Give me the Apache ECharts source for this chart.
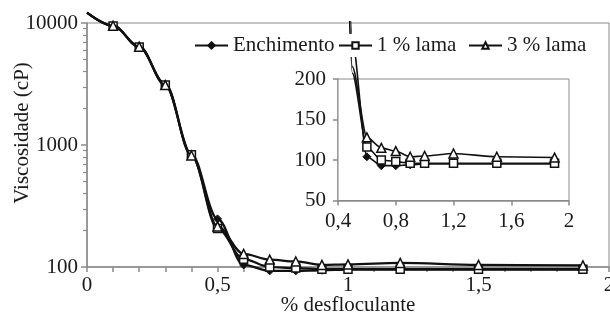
<!DOCTYPE html>
<html>
<head>
<meta charset="utf-8">
<script src="https://cdn.jsdelivr.net/npm/echarts@6/dist/echarts.min.js"></script>
<style>html,body{margin:0;padding:0;background:#fff}#c{width:610px;height:321px}</style>
</head>
<body>
<div id="c"></div>
<script>
// % desfloculante
const xs = [0, 0.1, 0.2, 0.3, 0.4, 0.5, 0.6, 0.7, 0.8, 0.9, 1.0, 1.2, 1.5, 1.9];
// Viscosidade (cP)
const enchimento = [12150, 9500, 6400, 3150, 840, 248, 104, 93, 93, 94, 95, 95, 95, 95];
const lama1 = [12150, 9450, 6350, 3100, 830, 207, 116, 100, 98, 96, 96, 96, 96, 96];
const lama3 = [12150, 9500, 6400, 3100, 820, 215, 128, 115, 111, 104, 105, 108, 104, 103];
const seriesNames = ['Enchimento', '1 % lama', '3 % lama'];
const insetStart = 4; // inset shows from 0.4

const FONT = 'Liberation Serif';
const TXT = '#1a1a1a';
const AX = '#8a8a8a';
const fmtX = v => String(+v.toFixed(2)).replace('.', ',');

const styles = [
  {symbol: 'diamond', symbolSize: 8, itemStyle: {color: '#111', borderColor: '#111', borderWidth: 1}},
  {symbol: 'rect', symbolSize: 8, itemStyle: {color: '#fff', borderColor: '#111', borderWidth: 1.5}},
  {symbol: 'triangle', symbolSize: 9, itemStyle: {color: '#fff', borderColor: '#111', borderWidth: 1.5}}
];
const allVals = [enchimento, lama1, lama3];

const series = [];
allVals.forEach((vals, k) => {
  const st = styles[k];
  series.push({
    name: seriesNames[k], type: 'line', xAxisIndex: 0, yAxisIndex: 0,
    data: xs.map((x, i) => [x, vals[i]]),
    smooth: 0.35, smoothMonotone: 'x', clip: false,
    symbol: st.symbol,
    symbolSize: v => v[1] > 10000 ? 0 : st.symbolSize,
    itemStyle: st.itemStyle,
    lineStyle: {color: '#111', width: 2.2},
    z: 3 + k
  });
});
allVals.forEach((vals, k) => {
  const st = styles[k];
  series.push({
    name: seriesNames[k], type: 'line', xAxisIndex: 1, yAxisIndex: 1,
    data: xs.slice(insetStart).map((x, i) => [x, vals[insetStart + i]]),
    smooth: 0.25, smoothMonotone: 'x', clip: false,
    symbol: st.symbol,
    symbolSize: v => v[1] > 200 ? 0 : st.symbolSize,
    itemStyle: st.itemStyle,
    lineStyle: {color: '#111', width: 1.6},
    z: 10 + k
  });
});

const legendBase = {
  orient: 'horizontal', top: 34, itemWidth: 33, itemHeight: 8,
  backgroundColor: '#fff', padding: [1, 2],
  textStyle: {fontFamily: FONT, fontSize: 21, color: TXT},
  z: 30
};

const chart = echarts.init(document.getElementById('c'), null, {renderer: 'canvas'});
chart.setOption({
  animation: false,
  backgroundColor: '#fff',
  legend: [
    Object.assign({}, legendBase, {data: [seriesNames[0]], left: 192}),
    Object.assign({}, legendBase, {data: [seriesNames[1]], left: 336}),
    Object.assign({}, legendBase, {data: [seriesNames[2]], left: 466})
  ],
  grid: [
    {left: 87, right: 1, top: 23, bottom: 54, show: true, borderColor: AX, borderWidth: 1, backgroundColor: 'transparent', outerBoundsMode: 'none', containLabel: false},
    {left: 338, right: 41, top: 79, bottom: 120.5, show: true, borderColor: AX, borderWidth: 1, backgroundColor: '#fff', z: 5, outerBoundsMode: 'none', containLabel: false}
  ],
  xAxis: [
    {
      type: 'value', gridIndex: 0, min: 0, max: 2, interval: 0.5,
      name: '% desfloculante', nameLocation: 'middle', nameGap: 28, nameMoveOverlap: false,
      nameTextStyle: {fontFamily: FONT, fontSize: 21, color: TXT},
      axisLine: {lineStyle: {color: AX, width: 1.5}},
      axisTick: {show: true, length: 5, lineStyle: {color: AX, width: 1.5}},
      minorTick: {show: true, splitNumber: 5, length: 5, lineStyle: {color: AX, width: 1.5}},
      splitLine: {show: false},
      axisLabel: {fontFamily: FONT, fontSize: 21, color: TXT, margin: 8, formatter: fmtX}
    },
    {
      type: 'value', gridIndex: 1, min: 0.4, max: 2, interval: 0.4,
      axisLine: {lineStyle: {color: AX, width: 1.5}},
      axisTick: {show: true, length: 5, lineStyle: {color: AX, width: 1.5}},
      splitLine: {show: false},
      axisLabel: {fontFamily: FONT, fontSize: 21, color: TXT, margin: 10, formatter: fmtX}
    }
  ],
  yAxis: [
    {
      type: 'log', logBase: 10, gridIndex: 0, min: 100, max: 10000,
      name: 'Viscosidade (cP)', nameLocation: 'middle', nameGap: 54, nameMoveOverlap: false,
      nameTextStyle: {fontFamily: FONT, fontSize: 21, color: TXT, padding: [0, 0, 0, 24]},
      axisLine: {show: true, lineStyle: {color: AX, width: 1.5}},
      axisTick: {show: true, length: 6, lineStyle: {color: AX, width: 1.5}},
      minorTick: {show: true, splitNumber: 9, length: 4, lineStyle: {color: AX, width: 1.2}},
      splitLine: {show: false},
      axisLabel: {fontFamily: FONT, fontSize: 21, color: TXT, margin: 9, formatter: v => String(Math.round(v))}
    },
    {
      type: 'value', gridIndex: 1, min: 50, max: 200, interval: 50,
      axisLine: {show: true, lineStyle: {color: AX, width: 1.5}},
      axisTick: {show: true, length: 5, lineStyle: {color: AX, width: 1.5}},
      splitLine: {show: false},
      axisLabel: {fontFamily: FONT, fontSize: 21, color: TXT, margin: 12}
    }
  ],
  graphic: [
    {type: 'rect', shape: {x: 335, y: 0, width: 30, height: 21}, style: {fill: '#fff'}, z: 25, silent: true}
  ],
  series: series
});
</script>
</body>
</html>
